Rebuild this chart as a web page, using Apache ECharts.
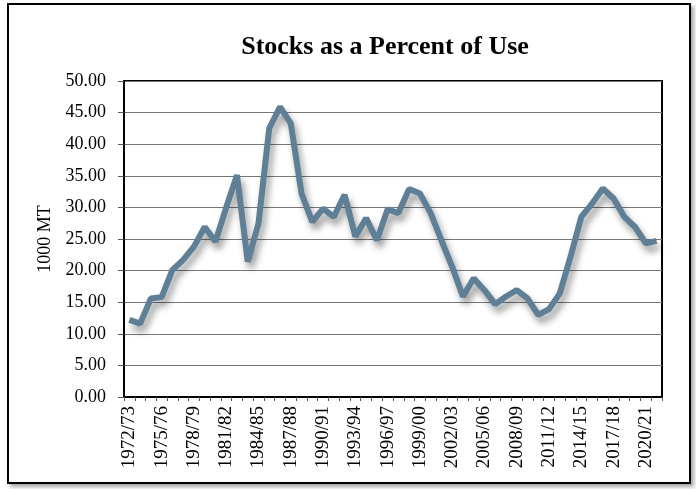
<!DOCTYPE html>
<html>
<head>
<meta charset="utf-8">
<script src="https://cdn.jsdelivr.net/npm/echarts@6/dist/echarts.min.js"></script>
<style>
  html, body { margin: 0; padding: 0; background: #fff; }
  #frame {
    position: absolute; left: 7px; top: 3px; width: 680px; height: 477px;
    border: 2px solid #000; box-shadow: 3px 3px 4px rgba(0,0,0,0.35);
  }
  #chart { position: absolute; left: 0; top: 0; width: 696px; height: 489px; }
</style>
</head>
<body>
<div id="frame"></div>
<div id="chart"></div>
<script>
const years = [];
for (let y = 1972; y <= 2021; y++) {
  years.push(y + '/' + String((y + 1) % 100).padStart(2, '0'));
}
const stocksPct = [
  12.2, 11.6, 15.6, 15.8, 20.1, 21.7, 23.8, 26.9, 24.6, 30.0,
  35.1, 21.4, 27.5, 42.5, 45.9, 43.3, 32.2, 27.7, 29.8, 28.5,
  32.0, 25.4, 28.3, 24.8, 29.7, 29.1, 32.9, 32.2, 29.1, 24.8,
  20.6, 15.9, 18.8, 16.9, 14.7, 15.9, 16.9, 15.6, 13.0, 13.9,
  16.4, 22.2, 28.5, 30.6, 33.0, 31.4, 28.5, 26.9, 24.3, 24.7
];

const chart = echarts.init(document.getElementById('chart'));
const serif = '"Liberation Serif", "DejaVu Serif", serif';
chart.setOption({
  animation: false,
  title: {
    text: 'Stocks as a Percent of Use',
    left: 380,
    top: 29,
    textAlign: 'center',
    textStyle: { fontFamily: serif, fontSize: 26, fontWeight: 'bold', color: '#000' }
  },
  grid: {
    left: 124, top: 81, right: 34, bottom: 92,
    show: true, borderColor: '#000', borderWidth: 2
  },
  xAxis: {
    type: 'category',
    data: years,
    boundaryGap: true,
    axisLine: { lineStyle: { color: '#000', width: 2 } },
    axisTick: { show: true, interval: 0, length: 4, lineStyle: { color: '#555' } },
    axisLabel: {
      interval: 2, rotate: 90, margin: 9,
      fontFamily: serif, fontSize: 19, color: '#000'
    }
  },
  yAxis: {
    type: 'value',
    min: 0, max: 50, interval: 5,
    name: '1000 MT',
    nameLocation: 'middle',
    nameGap: 70,
    nameTextStyle: { fontFamily: serif, fontSize: 18, color: '#000' },
    axisLine: { show: true, lineStyle: { color: '#000', width: 2 } },
    axisTick: { show: true, length: 6, lineStyle: { color: '#555' } },
    axisLabel: {
      margin: 18,
      fontFamily: serif, fontSize: 18, color: '#000',
      formatter: v => v.toFixed(2)
    },
    splitLine: { lineStyle: { color: '#777', width: 1 } }
  },
  series: [{
    type: 'line',
    data: stocksPct,
    symbol: 'none',
    lineStyle: {
      color: '#5e7f96', width: 6,
      shadowColor: 'rgba(0,0,0,0.4)', shadowBlur: 7,
      shadowOffsetX: 3, shadowOffsetY: 6
    }
  }]
});
</script>
</body>
</html>
